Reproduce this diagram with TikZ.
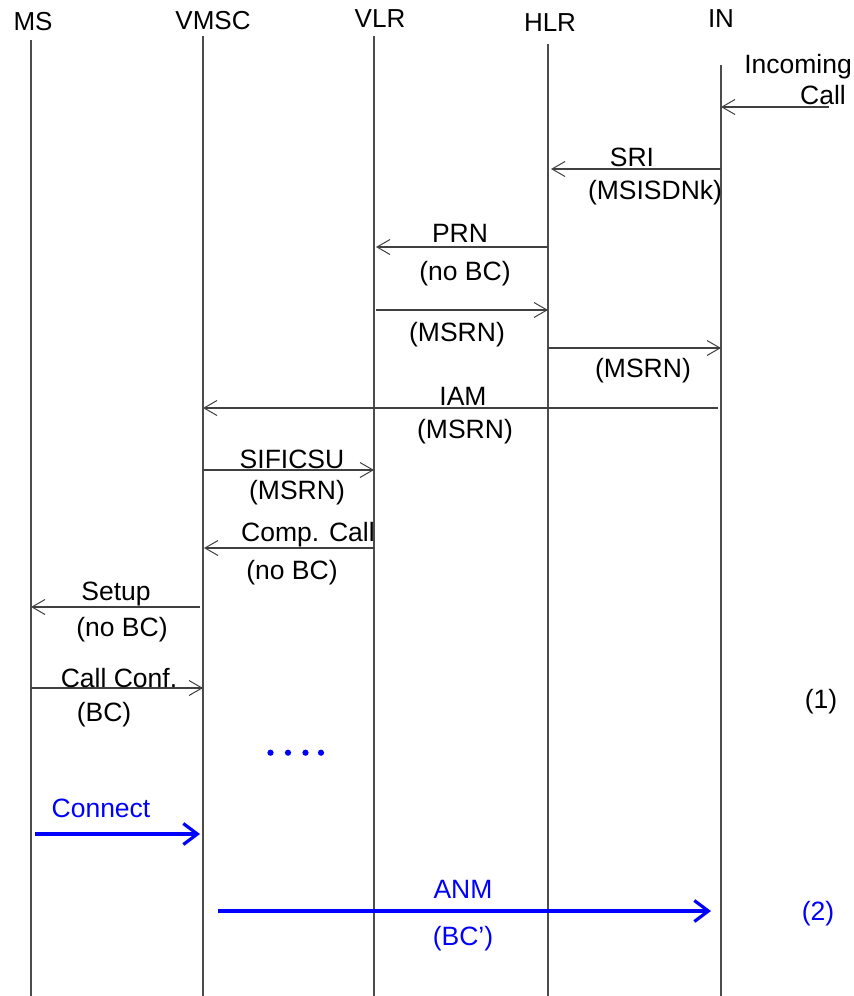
\documentclass[tikz,border=0pt]{standalone}
\usepackage{fontspec}
\setmainfont{Liberation Sans}
\usetikzlibrary{arrows.meta}
\definecolor{msgblue}{RGB}{0,0,255}
\tikzset{
  lifeline/.style={draw=black!70, line width=1.1pt},
  msg/.style={draw=black!75, line width=1.1pt, -{Straight Barb[length=13pt,width=15pt,line width=1pt]}},
  bmsg/.style={draw=msgblue, line width=3.2pt, -{Straight Barb[length=14pt,width=21pt,line width=3.2pt]}},
  lbl/.style={inner sep=0pt, font=\fontsize{26.5}{30}\selectfont},
  blbl/.style={lbl, text=msgblue},
  hdr/.style={inner sep=0pt, font=\fontsize{26}{30}\selectfont},
  dotmark/.style={fill=msgblue, draw=none}
}
\begin{document}
\begin{tikzpicture}[x=1pt,y=-1pt]
\useasboundingbox (0,0) rectangle (854,996);
% headers
\node[hdr] (hMS) at (33,22) {MS};
\node[hdr] (hVMSC) at (213,21) {VMSC};
\node[hdr] (hVLR) at (380,19) {VLR};
\node[hdr] (hHLR) at (550,23) {HLR};
\node[hdr] (hIN) at (721,19) {IN};
% lifelines
\coordinate (MSt) at (31,40);   \coordinate (MSb) at (31,996);
\coordinate (VMt) at (203,36);  \coordinate (VMb) at (203,996);
\coordinate (VLt) at (374,36);  \coordinate (VLb) at (374,996);
\coordinate (HLt) at (548,44);  \coordinate (HLb) at (548,996);
\coordinate (INt) at (721,65);  \coordinate (INb) at (721,996);
\draw[lifeline] (MSt) -- (MSb);
\draw[lifeline] (VMt) -- (VMb);
\draw[lifeline] (VLt) -- (VLb);
\draw[lifeline] (HLt) -- (HLb);
\draw[lifeline] (INt) -- (INb);
% incoming call
\coordinate (ic0) at (829,107); \coordinate (ic1) at (721,107);
\draw[msg] (ic0) -- (ic1);
\node[lbl, anchor=east] (icA) at (852,67) {Incoming};
\node[lbl, anchor=east] (icB) at (846,95) {Call};
% SRI
\coordinate (s0) at (721,169); \coordinate (s1) at (551,169);
\draw[msg] (s0) -- (s1);
\node[lbl] (sA) at (632,157) {SRI};
\node[lbl] (sB) at (655,193) {(MSISDNk)};
% PRN
\coordinate (p0) at (548,247); \coordinate (p1) at (376,247);
\draw[msg] (p0) -- (p1);
\node[lbl] (pA) at (460,233) {PRN};
\node[lbl] (pB) at (465,274) {(no BC)};
% VLR->HLR
\coordinate (r0) at (376,310); \coordinate (r1) at (548,310);
\draw[msg] (r0) -- (r1);
\node[lbl] (rB) at (457,335) {(MSRN)};
% HLR->IN
\coordinate (q0) at (548,348); \coordinate (q1) at (721,348);
\draw[msg] (q0) -- (q1);
\node[lbl] (qB) at (643,371) {(MSRN)};
% IAM
\coordinate (i0) at (718,408); \coordinate (i1) at (203,408);
\draw[msg] (i0) -- (i1);
\node[lbl] (iA) at (463,396) {IAM};
\node[lbl] (iB) at (465,432) {(MSRN)};
% SIFICSU
\coordinate (f0) at (203,470); \coordinate (f1) at (374,470);
\draw[msg] (f0) -- (f1);
\node[lbl] (fA) at (292,459) {SIFICSU};
\node[lbl] (fB) at (297,493) {(MSRN)};
% Comp. Call
\coordinate (c0) at (374,548); \coordinate (c1) at (204,548);
\draw[msg] (c0) -- (c1);
\node[lbl] (cA) at (308,535) {Comp. Call};
\node[lbl] (cB) at (292,573) {(no BC)};
% Setup
\coordinate (u0) at (200,607); \coordinate (u1) at (31,607);
\draw[msg] (u0) -- (u1);
\node[lbl] (uA) at (116,594) {Setup};
\node[lbl] (uB) at (122,630) {(no BC)};
% Call Conf.
\coordinate (k0) at (31,688); \coordinate (k1) at (203,688);
\draw[msg] (k0) -- (k1);
\node[lbl] (kA) at (119,678) {Call Conf.};
\node[lbl] (kB) at (104,715) {(BC)};
\node[lbl] (n1) at (821,702) {(1)};
% dots
\foreach \x in {270.5,288,305.5,321} \fill[dotmark] (\x,752.7) circle (3.1);
% Connect
\coordinate (g0) at (35,834); \coordinate (g1) at (200,834);
\draw[bmsg] (g0) -- (g1);
\node[blbl] (gA) at (101,808) {Connect};
% ANM
\coordinate (a0) at (218,911); \coordinate (a1) at (711,911);
\draw[bmsg] (a0) -- (a1);
\node[blbl] (aA) at (463,889) {ANM};
\node[blbl] (aB) at (463,939) {(BC’)};
\node[blbl] (n2) at (818,914) {(2)};
\end{tikzpicture}
\end{document}
